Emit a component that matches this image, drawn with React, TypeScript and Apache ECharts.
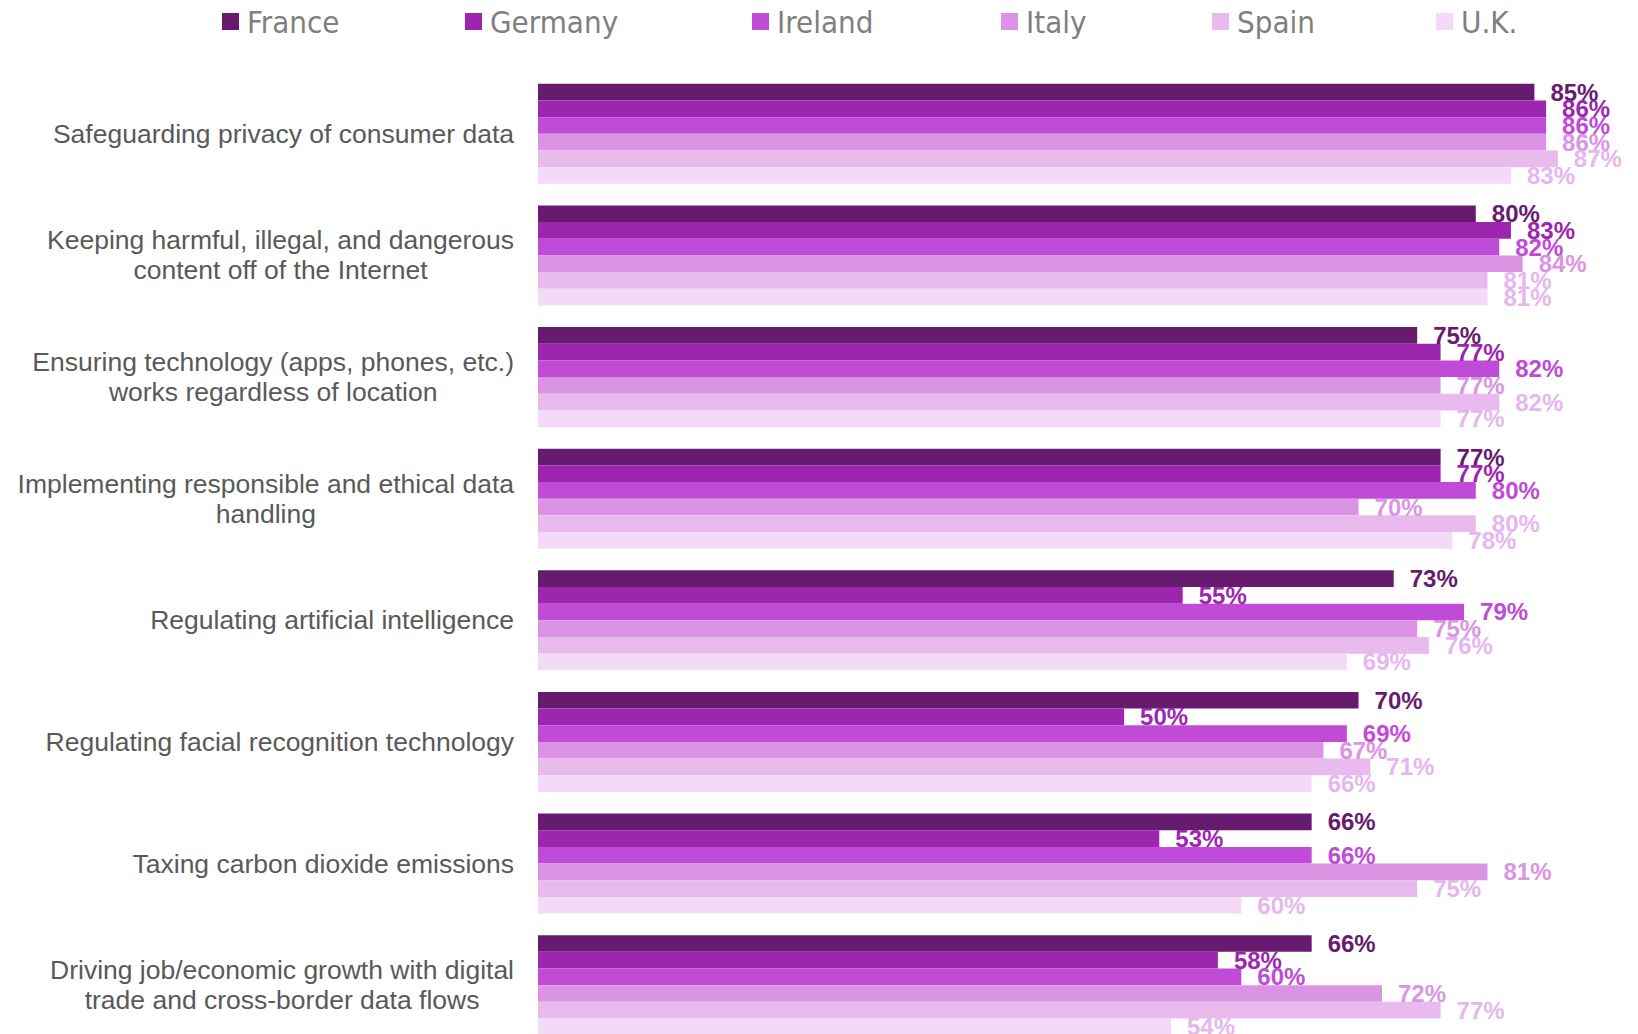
import React, { useEffect, useRef } from "react";
import * as echarts from "echarts";

const categories: string[] = [
  "Safeguarding privacy of consumer data",
  "Keeping harmful, illegal, and dangerous\ncontent off of the Internet",
  "Ensuring technology (apps, phones, etc.)\nworks regardless of location",
  "Implementing responsible and ethical data\nhandling",
  "Regulating artificial intelligence",
  "Regulating facial recognition technology",
  "Taxing carbon dioxide emissions",
  "Driving job/economic growth with digital\ntrade and cross-border data flows",
];

const seriesNames: string[] = ["France", "Germany", "Ireland", "Italy", "Spain", "U.K."];

const france: number[] = [85, 80, 75, 77, 73, 70, 66, 66];
const germany: number[] = [86, 83, 77, 77, 55, 50, 53, 58];
const ireland: number[] = [86, 82, 82, 80, 79, 69, 66, 60];
const italy: number[] = [86, 84, 77, 70, 75, 67, 81, 72];
const spain: number[] = [87, 81, 82, 80, 76, 71, 75, 77];
const uk: number[] = [83, 81, 77, 78, 69, 66, 60, 54];

const seriesValues: number[][] = [france, germany, ireland, italy, spain, uk];

const barColors: string[] = ["#671B6F", "#9C27AE", "#C04BD6", "#DB94E4", "#E8BAEE", "#F3DAF6"];
const labelColors: string[] = ["#671B6F", "#9C27AE", "#C04BD6", "#DB94E4", "#E6B6EE", "#E6B6EE"];
const legendLefts: number[] = [222, 465, 752, 1001, 1212, 1436];

export default function App() {
  const ref = useRef<HTMLDivElement>(null);
  useEffect(() => {
    if (!ref.current) return;
    const chart = echarts.init(ref.current, undefined, { renderer: "svg" });
    const option: any = {
      animation: false,
      backgroundColor: "#ffffff",
      legend: seriesNames.map((n, i) => ({
        data: [n],
        left: legendLefts[i],
        top: 6,
        padding: 0,
        icon: "rect",
        itemWidth: 17,
        itemHeight: 17,
        selectedMode: false,
        textStyle: {
          fontFamily: "'DejaVu Sans Condensed', 'DejaVu Sans'",
          fontSize: 31,
          color: "#7F7F7F",
          padding: [0, 0, 0, 3],
        },
      })),
      grid: { left: 538, top: 73, width: 1055, height: 973, containLabel: false },
      xAxis: {
        type: "value",
        min: 0,
        max: 90,
        show: false,
        splitLine: { show: false },
      },
      yAxis: {
        type: "category",
        inverse: true,
        data: categories,
        axisLine: { show: false },
        axisTick: { show: false },
        axisLabel: {
          margin: 24,
          align: "right",
          formatter: (v: string) =>
            v
              .split("\n")
              .map((l) => `{c|${l}}`)
              .join("\n"),
          rich: {
            c: {
              align: "center",
              fontFamily: "Liberation Sans",
              fontSize: 26.5,
              lineHeight: 30,
              color: "#595959",
            },
          },
        },
      },
      series: seriesNames.map((n, i) => ({
        name: n,
        type: "bar",
        data: seriesValues[i],
        barGap: "0%",
        barCategoryGap: "17.8%",
        itemStyle: { color: barColors[i] },
        label: {
          show: true,
          position: "right",
          distance: 16,
          formatter: "{c}%",
          fontFamily: "Liberation Sans",
          fontWeight: "bold",
          fontSize: 24,
          color: labelColors[i],
        },
      })),
    };
    chart.setOption(option);
    return () => chart.dispose();
  }, []);
  return (
    <div
      style={{ position: "absolute", left: 0, top: 0, width: 1638, height: 1034, overflow: "hidden" }}
    >
      <div ref={ref} style={{ width: 1638, height: 1060 }} />
    </div>
  );
}
